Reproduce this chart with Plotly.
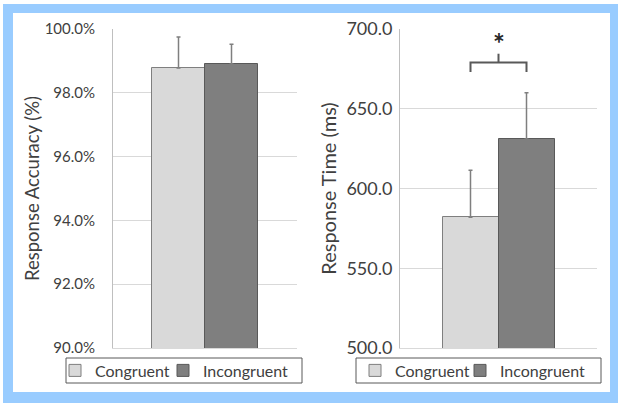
import plotly.graph_objects as go

# ---- data ----
conditions = ["Congruent", "Incongruent"]
accuracy = [98.78, 98.90]          # %
accuracy_err = [0.97, 0.62]
rt = [582.0, 631.0]                # ms
rt_err = [29.5, 29.0]
acc_ticks = [90, 92, 94, 96, 98, 100]
acc_ticklabels = [f"{v:.1f}%" for v in acc_ticks]
rt_ticks = [500, 550, 600, 650, 700]
rt_ticklabels = [f"{v:.1f}" for v in rt_ticks]
sig_level = 679.0    # bracket level (ms)
sig_drop = 6.0
sig_rise = 5.5
star_level = 691.0

fills = ["#D9D9D9", "#7F7F7F"]
edges = ["#7F7F7F", "#595959"]
W, H = 624, 408
FONT = "Lato"
TXT = "#404040"

def px(x):
    return x / W

def py(y):
    return 1 - y / H

# one legend per entry so each entry can sit where it does in the original
left_legends = ["legend", "legend3"]
right_legends = ["legend2", "legend4"]

fig = go.Figure()

for i, name in enumerate(conditions):
    fig.add_trace(go.Bar(
        x=[i], y=[accuracy[i]], name=name, width=1,
        marker=dict(color=fills[i], line=dict(color=edges[i], width=1)),
        error_y=dict(type="data", array=[accuracy_err[i]], arrayminus=[0], symmetric=False,
                     color="#7F7F7F", thickness=1.5, width=2),
        xaxis="x", yaxis="y", legend=left_legends[i], showlegend=True))
for i, name in enumerate(conditions):
    fig.add_trace(go.Bar(
        x=[i], y=[rt[i]], name=name, width=1,
        marker=dict(color=fills[i], line=dict(color=edges[i], width=1)),
        error_y=dict(type="data", array=[rt_err[i]], arrayminus=[0], symmetric=False,
                     color="#7F7F7F", thickness=1.5, width=2),
        xaxis="x2", yaxis="y2", legend=right_legends[i], showlegend=True))

# significance bracket
fig.add_trace(go.Scatter(
    x=[0, 0, 1, 1], y=[sig_level - sig_drop, sig_level, sig_level, sig_level - sig_drop],
    mode="lines", line=dict(color="#595959", width=2), xaxis="x2", yaxis="y2",
    showlegend=False, hoverinfo="skip"))
fig.add_trace(go.Scatter(
    x=[0.5, 0.5], y=[sig_level, sig_level + sig_rise],
    mode="lines", line=dict(color="#595959", width=2), xaxis="x2", yaxis="y2",
    showlegend=False, hoverinfo="skip"))
fig.add_annotation(x=0.5, y=star_level, xref="x2", yref="y2", text="<b>*</b>", showarrow=False,
                   font=dict(family=FONT, size=28, color="#262626"), yanchor="middle")

yaxis_common = dict(showgrid=True, gridcolor="#D9D9D9", gridwidth=1, showline=True,
                    linecolor="#BFBFBF", linewidth=1, zeroline=False, automargin=False,
                    ticks="")
xaxis_common = dict(showticklabels=False, showgrid=False, zeroline=False, showline=True,
                    linecolor="#D9D9D9", automargin=False, ticks="")

legend_common = dict(orientation="h", yanchor="middle", xanchor="left",
                     borderwidth=0, bgcolor="rgba(0,0,0,0)", itemclick=False,
                     font=dict(family=FONT, size=16, color=TXT))

fig.update_layout(
    width=W, height=H, margin=dict(l=0, r=0, t=0, b=0),
    paper_bgcolor="white", plot_bgcolor="rgba(0,0,0,0)",
    barmode="overlay", bargap=0,
    xaxis=dict(domain=[px(113), px(297)], range=[-1.236, 2.236], anchor="y", **xaxis_common),
    yaxis=dict(domain=[py(348), py(29)], range=[90, 100], tickvals=acc_ticks,
               ticktext=acc_ticklabels, anchor="x", ticklabelstandoff=14,
               tickfont=dict(family=FONT, size=15, color=TXT),
               title=dict(text="Response Accuracy (%)", font=dict(family=FONT, size=18.5, color=TXT),
                          standoff=0),
               **yaxis_common),
    xaxis2=dict(domain=[px(400), px(597)], range=[-1.259, 2.259], anchor="y2", **xaxis_common),
    yaxis2=dict(domain=[py(348), py(29)], range=[500, 700], tickvals=rt_ticks,
                ticktext=rt_ticklabels, anchor="x2", ticklabelstandoff=3,
                tickfont=dict(family=FONT, size=18, color=TXT),
                title=dict(text="Response Time (ms)", font=dict(family=FONT, size=20, color=TXT),
                           standoff=4),
                **yaxis_common),
    legend=dict(x=px(55), y=py(370.5), **legend_common),
    legend3=dict(x=px(163), y=py(370.5), **legend_common),
    legend2=dict(x=px(355), y=py(370.5), **legend_common),
    legend4=dict(x=px(460), y=py(370.5), **legend_common),
    showlegend=True,
    shapes=[
        dict(type="rect", xref="paper", yref="paper", x0=px(3), x1=px(618), y0=py(403), y1=py(4),
             fillcolor="#99CCFF", line=dict(width=0), layer="below"),
        dict(type="rect", xref="paper", yref="paper", x0=px(13), x1=px(610), y0=py(392), y1=py(13),
             fillcolor="white", line=dict(width=0), layer="below"),
        # legend frames
        dict(type="rect", xref="paper", yref="paper", x0=px(66), x1=px(302), y0=py(383), y1=py(358),
             fillcolor="white", line=dict(color="#595959", width=1), layer="below"),
        dict(type="rect", xref="paper", yref="paper", x0=px(356), x1=px(601), y0=py(383), y1=py(358),
             fillcolor="white", line=dict(color="#595959", width=1), layer="below"),
    ],
)

fig.write_html("out.html", config={"displayModeBar": False},
               post_script="document.body.style.margin='0';document.body.style.overflow='hidden';")
